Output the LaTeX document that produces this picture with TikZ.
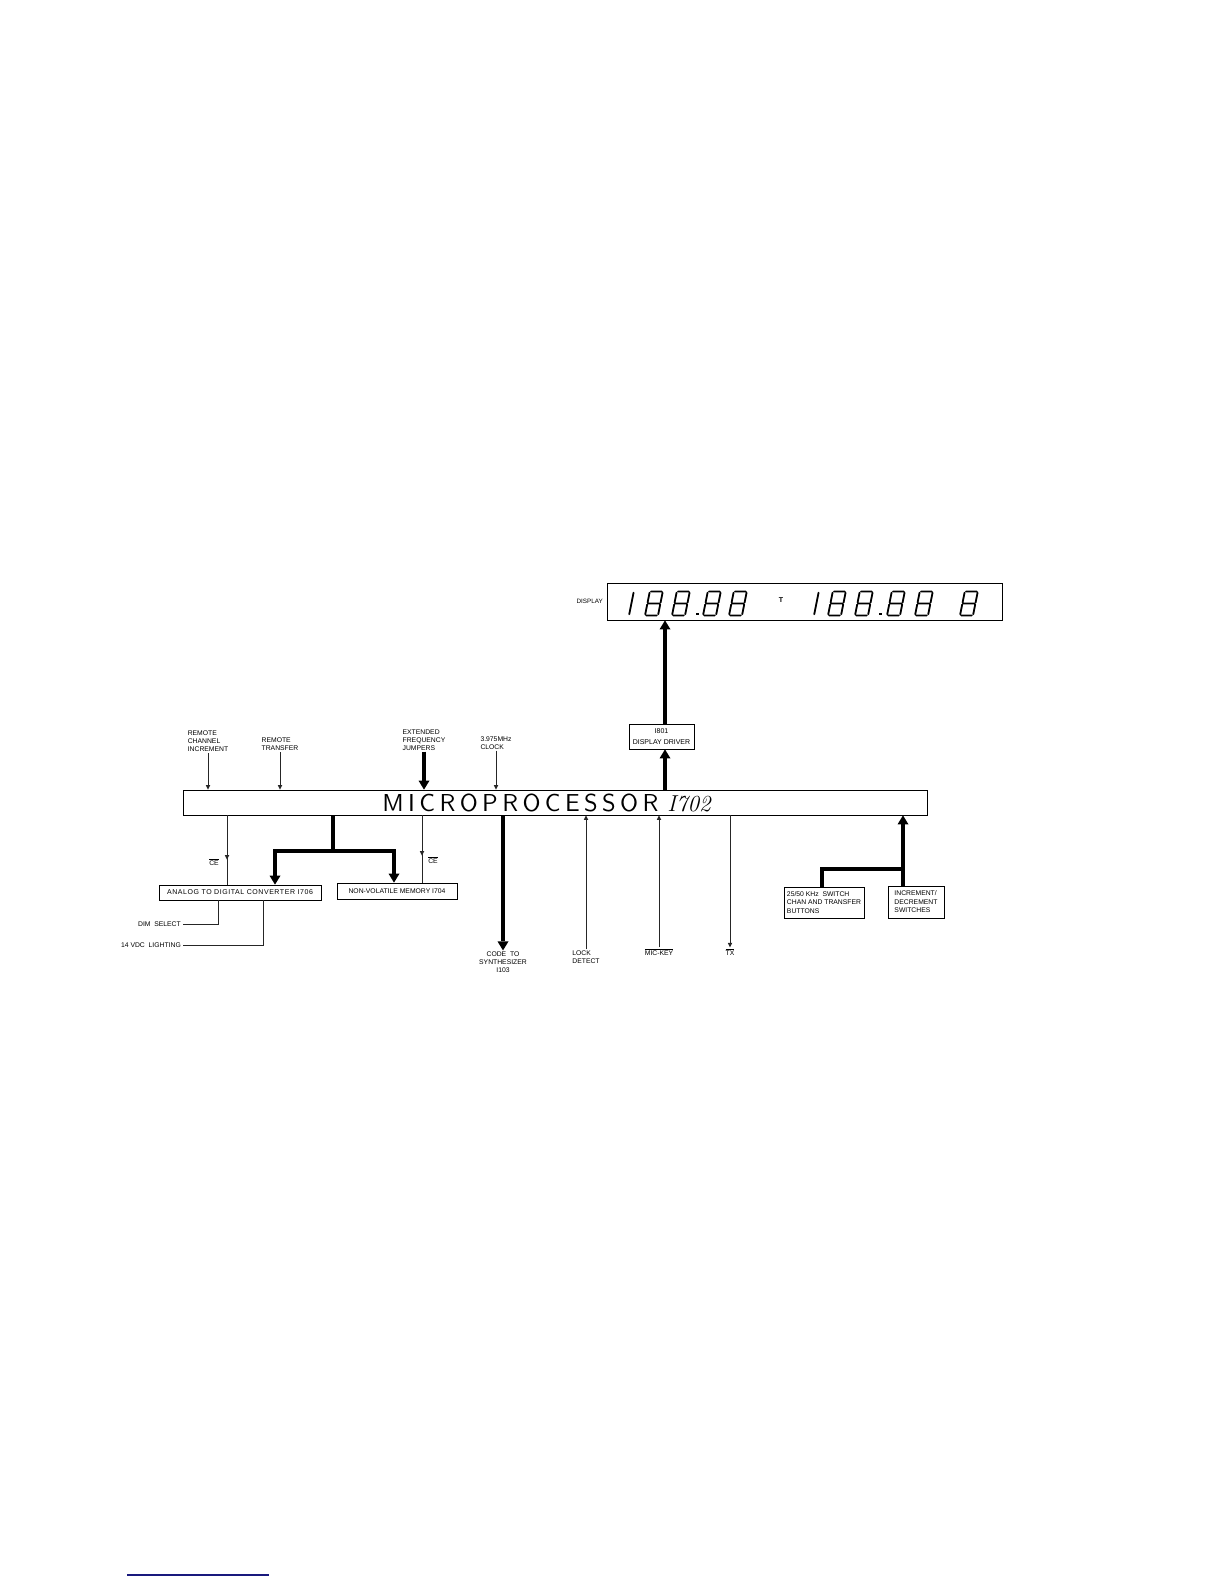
\documentclass[tikz,border=0pt]{standalone}
\usepackage{fontspec}
\newfontfamily\lbl{Liberation Sans}
\newfontfamily\mpfont{lmsans10-regular.otf}[LetterSpace=18]
\usetikzlibrary{arrows.meta,decorations.markings}
\definecolor{linkblue}{RGB}{25,25,125}
\tikzset{
  lab/.style={font=\lbl\fontsize{6.8}{8}\selectfont, align=left, inner sep=1pt},
  blk/.style={draw, line width=0.8pt, inner sep=0pt, font=\lbl\fontsize{6.8}{8.5}\selectfont, align=left},
  wire/.style={line width=0.7pt, draw=black!85},
  warr/.style={wire, -{Triangle[width=4.5pt,length=4.5pt,line width=0pt]}},
  bus/.style={line width=4.5pt, line join=miter},
  barr/.style={bus, -{Triangle[width=11pt,length=9pt,line width=0pt]}},
  cemark/.style={postaction={decorate}, decoration={markings,
      mark=at position #1 with {\arrow{Triangle[width=4.5pt,length=4.5pt,line width=0pt]}}}},
  seg/.style={line width=1.8pt, line cap=round},
}
\newcommand\dEight[1]{%
  \begin{scope}[shift={(#1,615.5)},xslant=0.2]
    \draw[seg] (1.2,-24)--(11.8,-24) (13,-22.8)--(13,-13) (13,-11)--(13,-1.2)
      (1.2,0)--(11.8,0) (0,-1.2)--(0,-11) (0,-13)--(0,-22.8) (1.2,-12)--(11.8,-12);
  \end{scope}}
\newcommand\dOne[1]{%
  \begin{scope}[shift={(#1,615.5)},xslant=0.2]
    \draw[seg] (1,-1.2)--(1,-22.8);
  \end{scope}}
\newcommand\dDot[1]{\fill (#1,612.5) rectangle ++(2.8,2.8);}
\begin{document}
\begin{tikzpicture}[x=1pt,y=-1pt]
\useasboundingbox (0,0) rectangle (1224,1584);

% microprocessor
\node[draw, line width=0.8pt, minimum width=744pt, minimum height=25pt, inner sep=0pt] (mp) at (555,802.5)
  {{\mpfont\fontsize{24.5}{24.5}\selectfont MICROPROCESSOR}\kern9pt{\itshape\fontsize{23}{23}\selectfont I702}\kern17pt};

% display
\node[draw, line width=0.8pt, minimum width=395pt, minimum height=37pt, inner sep=0pt] (disp) at (804.5,601.5) {};
\node[lab, font=\lbl\fontsize{6.3}{7}\selectfont, anchor=east] (displbl) at (604,601.5) {DISPLAY};
\dOne{628}\dEight{645}\dEight{672}\dDot{696}\dEight{703}\dEight{729}
\node[inner sep=0pt, font=\lbl\bfseries\fontsize{7}{7}\selectfont] (tmark) at (781,600.5) {T};
\dOne{813}\dEight{828}\dEight{855}\dDot{879}\dEight{887}\dEight{915}\dEight{960}

% display driver
\node[blk, align=center, minimum width=65pt, minimum height=25pt, font=\lbl\fontsize{7}{10.5}\selectfont] (drv) at (661.5,736.5) {I801\\DISPLAY DRIVER};
\draw[barr] (mp.north -| 665,0) -- (drv.south -| 665,0);
\draw[barr] (drv.north -| 665,0) -- (disp.south -| 665,0);

% top inputs
\node[lab] (l1) at (208,741.5) {REMOTE\\CHANNEL\\INCREMENT};
\node[lab] (l2) at (280,744.5) {REMOTE\\TRANSFER};
\node[lab] (l3) at (424,740) {EXTENDED\\FREQUENCY\\JUMPERS};
\node[lab] (l4) at (496,743) {3.975MHz\\CLOCK};
\draw[warr] (l1.south) -- (l1.south |- mp.north);
\draw[warr] (l2.south) -- (l2.south |- mp.north);
\draw[barr] (l3.south) -- (l3.south |- mp.north);
\draw[warr] (l4.south) -- (l4.south |- mp.north);

% lower left blocks
\node[blk, minimum width=162pt, minimum height=15pt, font=\lbl\addfontfeature{LetterSpace=8}\fontsize{7}{8}\selectfont] (adc) at (240,892.5) {ANALOG TO DIGITAL CONVERTER I706};
\node[blk, minimum width=120pt, minimum height=16pt] (nv) at (397,891) {NON-VOLATILE MEMORY I704};
\node[lab] (ce1) at (214,862) {$\overline{\mbox{CE}}$};
\node[lab] (ce2) at (433,860) {$\overline{\mbox{CE}}$};
\draw[wire, cemark=0.64] (mp.south -| 227,0) -- (adc.north -| 227,0);
\draw[wire, cemark=0.6] (mp.south -| 422,0) -- (nv.north -| 422,0);
\coordinate (bm) at (333,851);
\coordinate (bl) at (275,851);
\coordinate (br) at (394,851);
\draw[barr] (mp.south -| bm) -- (bm) -| (adc.north -| bl);
\draw[barr] (bm) -| (nv.north -| br);

\node[lab, anchor=east, inner sep=2pt] (dim) at (183,924.5) {DIM\ \ SELECT};
\node[lab, anchor=east, inner sep=2pt] (vdc) at (183,945) {14 VDC\ \ LIGHTING};
\draw[wire] (dim.east) -| (adc.south -| 218,0);
\draw[wire] (vdc.east) -| (adc.south -| 263,0);

% bottom outputs / inputs
\node[lab, align=center] (code) at (503,962) {CODE\ \ TO\\SYNTHESIZER\\I103};
\node[lab] (lock) at (586,957) {LOCK\\DETECT};
\node[lab] (mic) at (659,952) {$\overline{\mbox{MIC-KEY}}$};
\node[lab] (tx) at (730,952) {$\overline{\mbox{TX}}$};
\draw[barr] (mp.south -| code.north) -- (code.north);
\draw[warr] (lock.north) -- (lock.north |- mp.south);
\draw[warr] (mic.north) -- (mic.north |- mp.south);
\draw[warr] (mp.south -| tx.north) -- (tx.north);

% right side switches
\node[blk, minimum width=80pt, minimum height=31pt] (sw) at (824,902.5) {25/50 KHz\ \ SWITCH\\CHAN AND TRANSFER\\BUTTONS};
\node[blk, minimum width=56pt, minimum height=32pt] (inc) at (916,902) {INCREMENT/\\DECREMENT\\SWITCHES};
\coordinate (rj) at (903,869);
\draw[barr] (inc.north -| rj) -- (mp.south -| rj);
\draw[bus] (sw.north -| 822,0) |- (rj);

% stray link underline
\draw[line width=1.5pt, linkblue] (127,1575) -- (269,1575);
\end{tikzpicture}
\end{document}
